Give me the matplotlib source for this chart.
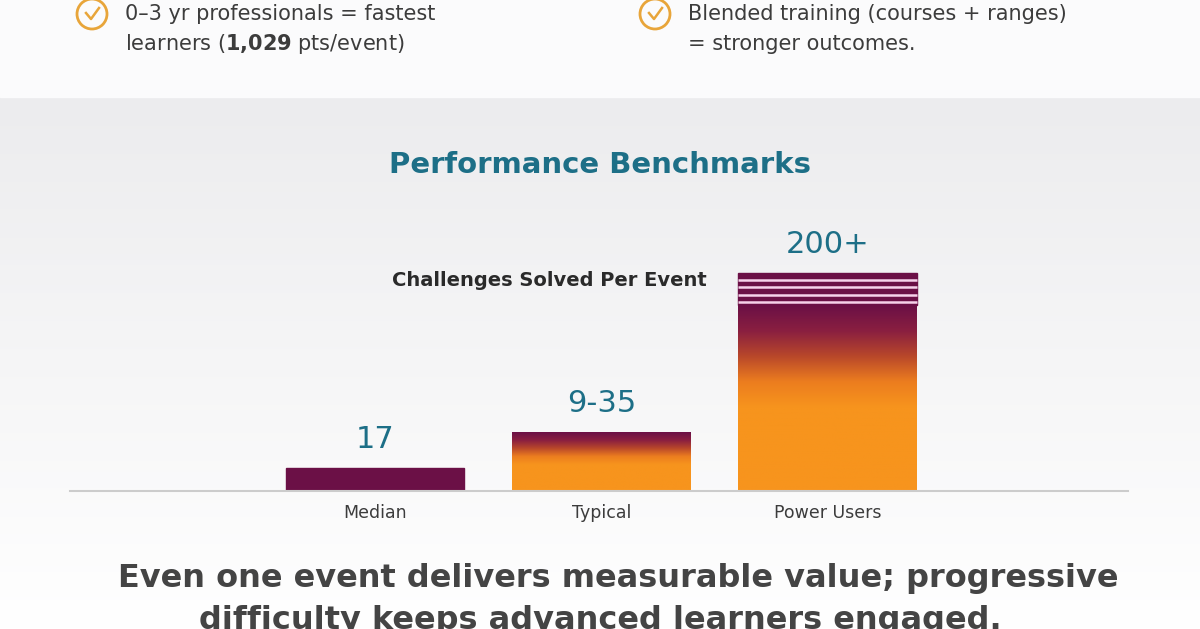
import numpy as np
import matplotlib.pyplot as plt
from matplotlib.colors import LinearSegmentedColormap
from matplotlib.patches import Circle, Rectangle

categories = ['Median', 'Typical', 'Power Users']
value_labels = ['17', '9-35', '200+']
# bar heights as drawn (visual scale, not linear in the labels)
heights = [23, 59, 218]

purple = '#6b1046'
orange = '#f7941d'
teal = '#1d6f87'
textc = '#3c3c3c'

plt.rcParams['font.family'] = ['DejaVu Sans']
fig = plt.figure(figsize=(12, 6.29), dpi=100)

# background: white band on top, light grey fading to white below
bg = fig.add_axes([0, 0, 1, 1], zorder=-5)
bg.set_xlim(0, 1200)
bg.set_ylim(629, 0)
bg.axis('off')
grad = np.linspace(0, 1, 256).reshape(-1, 1)
bg.imshow(grad, extent=[0, 1200, 629, 97], cmap=LinearSegmentedColormap.from_list('g', ['#ececee', '#ffffff']),
          aspect='auto')
bg.add_patch(Rectangle((0, 0), 1200, 97, color='#fbfbfc'))

# top check items
for cx, first in [(92, '0–3 yr professionals = fastest'),
                  (655, 'Blended training (courses + ranges)')]:
    bg.add_patch(Circle((cx, 14), 15, fill=False, ec='#e8a53a', lw=2))
    bg.plot([cx - 6, cx - 1, cx + 7], [13, 19, 8], color='#e8a53a', lw=1.8)
    bg.text(cx + 33, 14, first, fontsize=15, color=textc, va='center')
bg.text(125, 44, 'learners (' + r'$\bf{1{,}029}$' + ' pts/event)', fontsize=15, color=textc, va='center')
bg.text(688, 44, '= stronger outcomes.', fontsize=15, color=textc, va='center')

bg.text(600, 165, 'Performance Benchmarks', fontsize=21, fontweight='bold', color=teal, ha='center', va='center')
bg.text(118, 578, 'Even one event delivers measurable value; progressive', fontsize=23, fontweight='bold',
        color='#444444', va='center')
bg.text(600, 620, 'difficulty keeps advanced learners engaged.', fontsize=23, fontweight='bold',
        color='#444444', va='center', ha='center')

ax = fig.add_axes([70 / 1200, 1 - 491 / 629, 1058 / 1200, 291 / 629])
ax.set_xlim(-1.35, 3.33)
ax.set_ylim(0, 291)
for s in ['top', 'right', 'left']:
    ax.spines[s].set_visible(False)
ax.spines['bottom'].set_color('#cccccc')
ax.spines['bottom'].set_linewidth(1.5)
ax.set_yticks([])
ax.patch.set_alpha(0)

x = np.arange(len(categories))
w = 0.79
bars = ax.bar(x, heights, w, color='none')
cmap = LinearSegmentedColormap.from_list('po', [orange, '#ec7d1f', '#b9482a', '#8a1f40', purple])
fades = [None, 0.55, 0.55]
stripes = [0, 0, 32]
for i, (b, h) in enumerate(zip(bars, heights)):
    x0 = b.get_x()
    if fades[i] is None:
        ax.add_patch(Rectangle((x0, 0), w, h, color=purple))
    else:
        body = h - stripes[i]
        y = np.linspace(0, 1, 200)
        start = 1 - fades[i]
        v = np.clip((y - start) / fades[i], 0, 1).reshape(-1, 1)
        ax.imshow(v, extent=[x0, x0 + w, 0, body], origin='lower', cmap=cmap, vmin=0, vmax=1,
                  aspect='auto', zorder=2)
        if stripes[i]:
            ax.add_patch(Rectangle((x0, body), w, stripes[i], color=purple, zorder=2))
            for k in range(4):
                ax.hlines(body + 3 + k * 7.5, x0, x0 + w, color='#f6d2ea', lw=1.8, zorder=3)
    ax.text(x[i], h + 14, value_labels[i], ha='center', va='bottom', fontsize=22, color=teal)

ax.set_xticks(x, categories, fontsize=12.5, color=textc)
ax.tick_params(axis='x', length=0, pad=9)
ax.text(0.77, 211, 'Challenges Solved Per Event', ha='center', va='center', fontsize=14,
        fontweight='semibold', color='#2a2a2a')

fig.savefig('out.png', dpi=100)
